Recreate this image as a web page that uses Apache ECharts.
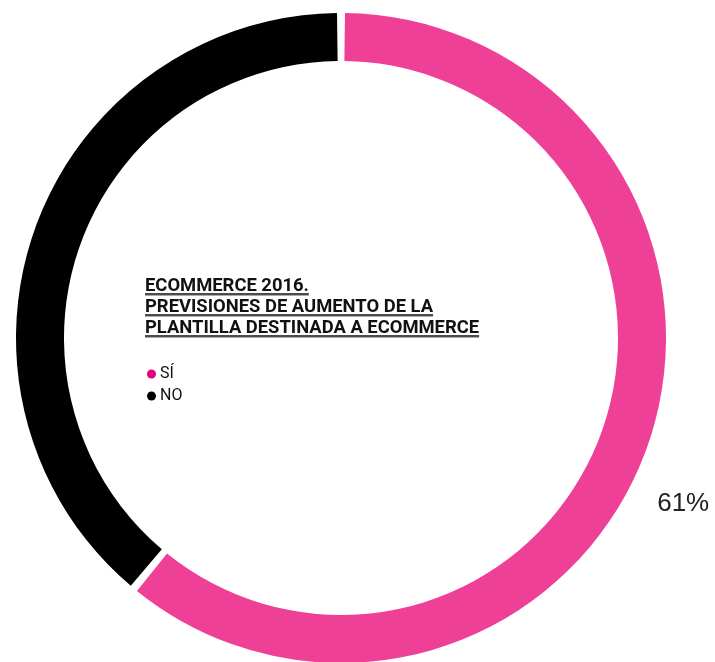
<!DOCTYPE html>
<html>
<head>
<meta charset="utf-8">
<script src="https://cdn.jsdelivr.net/npm/echarts@6/dist/echarts.min.js"></script>
<style>html,body{margin:0;padding:0;background:#fff}#c{width:715px;height:662px}</style>
</head>
<body>
<div id="c"></div>
<script>
const categories = ['SÍ', 'NO'];
const values = [61, 39];
const titleLines = ['ECOMMERCE 2016.', 'PREVISIONES DE AUMENTO DE LA', 'PLANTILLA DESTINADA A ECOMMERCE'];
const ringColors = ['#ef4098', '#000000'];
const legendColors = ['#e6007e', '#000000'];

const chart = echarts.init(document.getElementById('c'));

const titleSize = 18.4;
const titleLeft = 145, titleTop = 276, titleLH = 21;
const cv = document.createElement('canvas').getContext('2d');
cv.font = 'bold ' + titleSize + 'px Roboto';
const underlines = [];
titleLines.forEach((t, i) => {
  const w = cv.measureText(t).width;
  const y = titleTop + titleLH * i + 18;
  underlines.push({type: 'line', shape: {x1: titleLeft, y1: y + 1.5, x2: titleLeft + w, y2: y + 1.5}, style: {stroke: '#aaa', lineWidth: 1}, silent: true});
  underlines.push({type: 'line', shape: {x1: titleLeft, y1: y, x2: titleLeft + w, y2: y}, style: {stroke: '#111', lineWidth: 1.4}, silent: true});
});

chart.setOption({
  animation: false,
  title: {
    text: titleLines.join('\n'),
    left: titleLeft, top: titleTop, padding: 0,
    textStyle: {fontFamily: 'Roboto', fontWeight: 'bold', fontSize: titleSize, lineHeight: titleLH, color: '#111'}
  },
  legend: {
    orient: 'vertical', left: 147, top: 366, padding: 0,
    icon: 'circle', itemWidth: 9, itemHeight: 9, itemGap: 6,
    textStyle: {fontFamily: 'Roboto', fontSize: 16, lineHeight: 14, color: '#111', padding: [0, 0, 0, -1]},
    data: categories.map((c, i) => ({name: c, itemStyle: {color: legendColors[i]}}))
  },
  graphic: underlines,
  series: [{
    type: 'pie',
    center: [341, 338],
    radius: [277, 325],
    startAngle: 90,
    clockwise: true,
    padAngle: 1.4,
    avoidLabelOverlap: false,
    label: {show: false},
    labelLine: {show: false},
    data: categories.map((c, i) => ({
      name: c, value: values[i],
      itemStyle: {color: ringColors[i]},
      label: i === 0 ? {show: true, position: 'outside', formatter: '{c}%', fontFamily: 'Liberation Sans', fontSize: 26, color: '#222'} : {show: false},
      labelLine: {show: false, length: 10, length2: 0}
    })),
    labelLayout: function (p) { return p.dataIndex === 0 ? {dx: -4, dy: 52} : {}; }
  }]
});
</script>
</body>
</html>
